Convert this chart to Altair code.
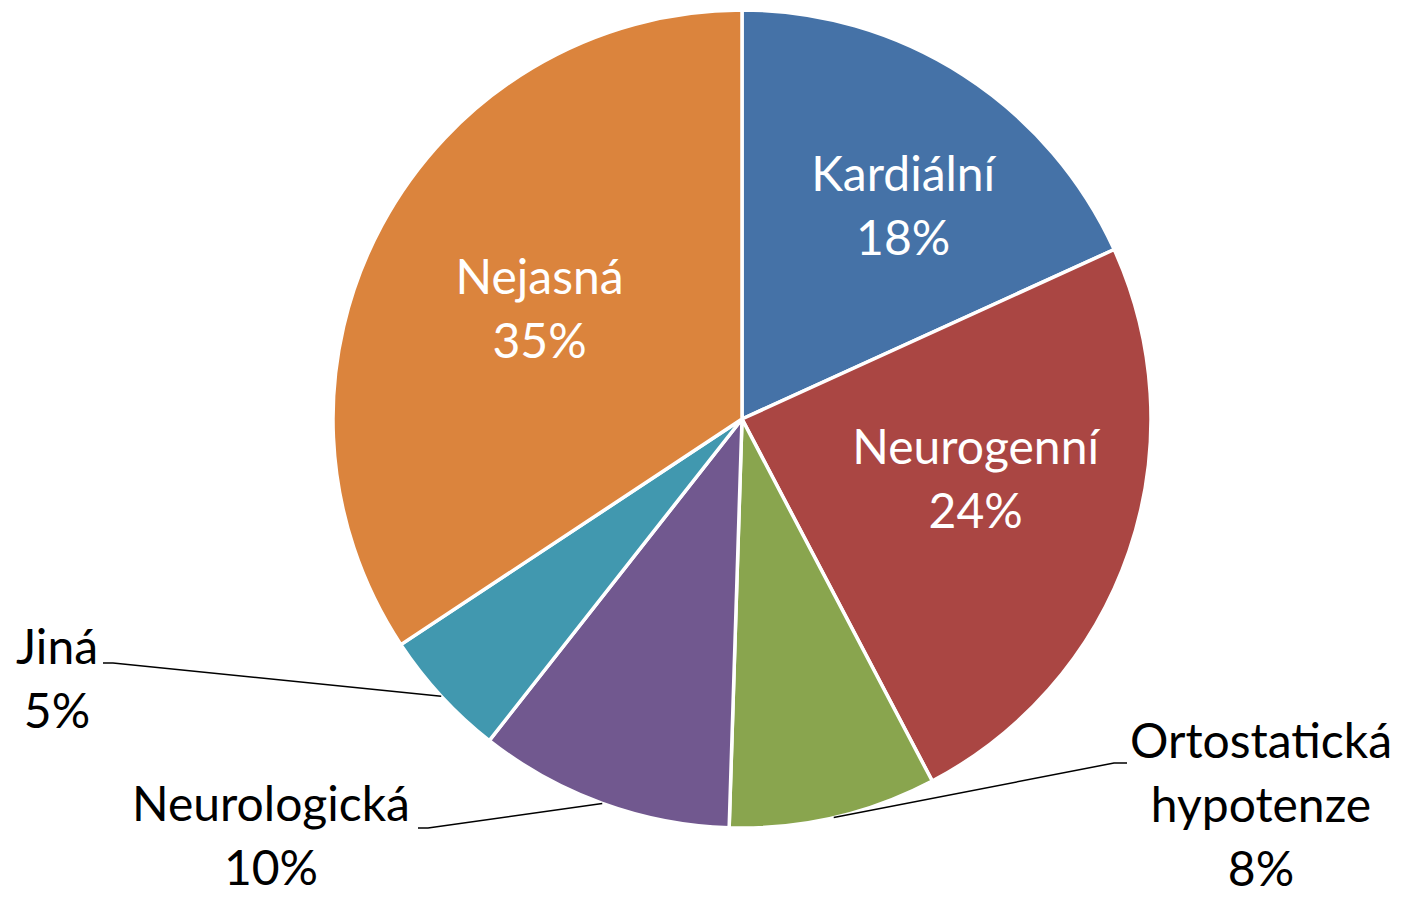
import math
import altair as alt
import pandas as pd

# ---- data ----
categories = ["Kardiální", "Neurogenní", "Ortostatická hypotenze", "Neurologická", "Jiná", "Nejasná"]
values = [18.2, 24.1, 8.2, 10.1, 5.1, 34.3]
pct_labels = ["18%", "24%", "8%", "10%", "5%", "35%"]
label_names = ["Kardiální", "Neurogenní", "Ortostatická\nhypotenze", "Neurologická", "Jiná", "Nejasná"]
colors = ["#4572A7", "#AA4643", "#89A54E", "#71588F", "#4198AF", "#DB843D"]

# ---- layout (image pixel coordinates) ----
M = 8
W, H = 1402 - 2 * M, 904 - 2 * M
CX, CY, R = 742 - M, 419 - M, 409
FONT = "Lato"
FS = 48
LH = 64

# inside labels: (radius, angle nudge in degrees) relative to slice mid-angle
inside = {"Kardiální": (265, 4.7), "Neurogenní": (242, -3.8), "Nejasná": (229, -0.4)}
# outside labels: label block centre and leader elbow points
outside = {
    "Jiná": {"center": (57, 682), "elbow": [(113, 663), (103, 663)]},
    "Neurologická": {"center": (271, 839), "elbow": [(428, 828), (418, 828)]},
    "Ortostatická hypotenze": {"center": (1261, 808), "elbow": [(1114, 763), (1127, 763)]},
}

total = sum(values)
cum = 0.0
mids = []
for v in values:
    mids.append((cum + v / 2) / total * 2 * math.pi)
    cum += v

pie_df = pd.DataFrame({"category": categories, "value": values, "idx": list(range(len(values)))})

label_rows = []
line_rows = []
for i, cat in enumerate(categories):
    text = label_names[i] + "\n" + pct_labels[i]
    nlines = text.count("\n") + 1
    shift = (nlines - 1) * LH / 2
    if cat in inside:
        r, nudge = inside[cat]
        a = mids[i] + math.radians(nudge)
        x, y = CX + r * math.sin(a), CY - r * math.cos(a)
        label_rows.append({"x": x, "y": y - shift, "text": text, "color": "white"})
    else:
        cx_, cy_ = outside[cat]["center"]
        label_rows.append({"x": cx_ - M, "y": cy_ - M - shift, "text": text, "color": "black"})
        sx, sy = CX + R * math.sin(mids[i]), CY - R * math.cos(mids[i])
        pts = [(sx, sy)] + [(px - M, py - M) for px, py in outside[cat]["elbow"]]
        for k, (px, py) in enumerate(pts):
            line_rows.append({"category": cat, "k": k, "x": px, "y": py})

label_df = pd.DataFrame(label_rows)
line_df = pd.DataFrame(line_rows)

arcs = alt.Chart(pie_df).mark_arc(radius=R, stroke="white", strokeWidth=3.5).encode(
    theta=alt.Theta("value:Q", stack=True),
    color=alt.Color("category:N", scale=alt.Scale(domain=categories, range=colors), legend=None),
    order=alt.Order("idx:Q"),
    x=alt.value(CX),
    y=alt.value(CY),
)

leaders = alt.Chart(line_df).mark_line(color="black", strokeWidth=1.5).encode(
    x=alt.X("x:Q", scale=None, axis=None),
    y=alt.Y("y:Q", scale=None, axis=None),
    detail="category:N",
    order="k:Q",
)

labels = alt.Chart(label_df).mark_text(
    font=FONT, fontSize=FS, lineBreak="\n", lineHeight=LH, align="center", baseline="middle"
).encode(
    x=alt.X("x:Q", scale=None, axis=None),
    y=alt.Y("y:Q", scale=None, axis=None),
    text="text:N",
    color=alt.Color("color:N", scale=None),
)

chart = alt.layer(arcs, leaders, labels).properties(
    width=W, height=H, padding=0, autosize=alt.AutoSizeParams(type="none")
).configure_view(stroke=None)

chart.save("out.html", embed_options={"renderer": "svg", "actions": False})
